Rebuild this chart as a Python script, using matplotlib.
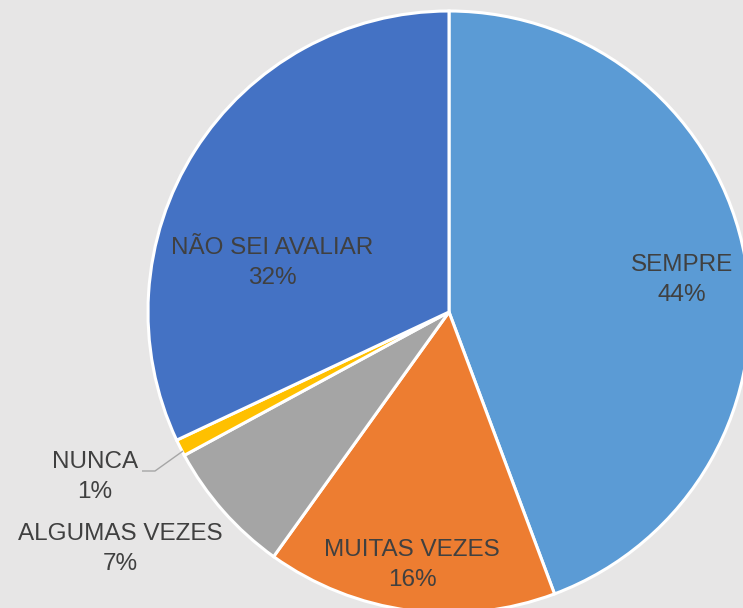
import matplotlib
matplotlib.use("Agg")
import matplotlib.pyplot as plt
from matplotlib import font_manager

categories = ["SEMPRE", "MUITAS VEZES", "ALGUMAS VEZES", "NUNCA", "NÃO SEI AVALIAR"]
values = [44.3, 15.6, 7.2, 0.9, 32.0]
pct_labels = ["44%", "16%", "7%", "1%", "32%"]
colors = ["#5B9BD5", "#ED7D31", "#A5A5A5", "#FFC000", "#4472C4"]

# label centres in pixel coordinates (x from left, y from top)
label_pos = [(682, 280), (412, 565), (120, 549), (95, 477), (272, 263)]

W, H = 743, 608
bg = "#E7E6E6"
names = {f.name for f in font_manager.fontManager.ttflist}
fam = "Liberation Sans Narrow" if "Liberation Sans Narrow" in names else "Liberation Sans"

fig = plt.figure(figsize=(W / 100, H / 100), dpi=100, facecolor=bg)
ax = fig.add_axes([0, 0, 1, 1])
ax.set_facecolor(bg)

cx, cy, r = 449, H - 312, 301
ax.pie(values, colors=colors, startangle=90, counterclock=False,
       center=(cx, cy), radius=r, frame=True,
       wedgeprops=dict(edgecolor="white", linewidth=2.2))
ax.set_xlim(0, W)
ax.set_ylim(0, H)
ax.set_aspect("equal")
ax.axis("off")

for cat, pct, (px, py) in zip(categories, pct_labels, label_pos):
    ax.text(px, H - py, f"{cat}\n{pct}", ha="center", va="center",
            fontsize=17.5, family=fam, color="#404040", linespacing=1.45)

# leader line for NUNCA
ax.plot([142, 155, 183], [H - 471, H - 471, H - 451], color="#A6A6A6", lw=1.0,
        solid_capstyle="butt")

fig.savefig("out.png", dpi=100, facecolor=bg)
